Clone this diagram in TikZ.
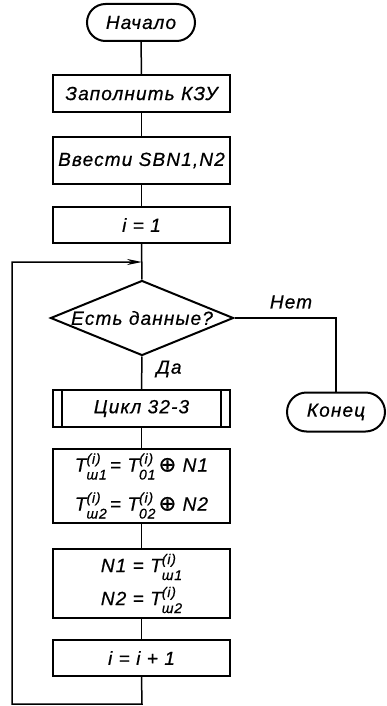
\documentclass[tikz,border=0pt]{standalone}
\usepackage{fontspec}
\usetikzlibrary{shapes.geometric,shapes.misc,arrows.meta}
\newfontfamily\gostfont[LetterSpace=6,FakeBold=0.6]{Liberation Sans}
\newfontfamily\dvsans[FakeBold=1.2]{DejaVu Sans}
\newcommand{\smf}{\fontsize{14}{14}\selectfont}
\newcommand{\Tv}[1]{T\rlap{\raisebox{8pt}{\smf(i)}}\raisebox{-8pt}{\smf #1}}
\newcommand{\xor}{\,{\dvsans\fontsize{21}{21}\selectfont ⊕}\ }
\tikzset{
  txt/.style={font=\gostfont\itshape\fontsize{19}{22}\selectfont},
  box/.style={txt, draw, line width=2pt, minimum width=177pt, inner sep=0pt},
  term/.style={txt, draw, line width=2pt, rounded rectangle, inner sep=0pt},
  dia/.style={txt, draw, line width=2pt, diamond, aspect=2.44, minimum width=183pt, minimum height=75pt, inner sep=0pt},
  conn/.style={line width=1.5pt},
  lbl/.style={txt, inner sep=0pt}
}
\begin{document}
\begin{tikzpicture}[x=1pt,y=-1pt]
\useasboundingbox (0,0) rectangle (387,706);
\node[term, minimum width=108pt, minimum height=37pt] (start) at (141,22.5) {Начало};
\node[box, minimum height=37pt] (b1) at (141.5,93.5) {Заполнить КЗУ};
\node[box, minimum height=47pt] (b2) at (141.5,160.5) {Ввести SBN1,N2};
\node[box, minimum height=36pt] (b3) at (141.5,225) {i = 1};
\coordinate (join) at (142,262);
\node[dia] (d) at (142,318) {Есть данные?};
\node[lbl] (net) at (291,302) {Нет};
\node[lbl] (da) at (169,369) {Да};
\node[term, minimum width=98pt, minimum height=39pt] (end) at (336,412) {Конец};
\node[box, minimum height=37pt] (cyc) at (141.5,408.5) {Цикл 32-3};
\draw[line width=2pt] ([xshift=10pt]cyc.north west) -- ([xshift=10pt]cyc.south west);
\draw[line width=2pt] ([xshift=-10pt]cyc.north east) -- ([xshift=-10pt]cyc.south east);
\node[box, minimum height=74pt, align=center, font=\gostfont\itshape\fontsize{19}{37}\selectfont] (calc) at (141.5,486)
  {\Tv{ш1}\,= \Tv{01}\xor N1\\[2pt] \Tv{ш2}\,= \Tv{02}\xor N2};
\node[box, minimum height=69pt, align=center, font=\gostfont\itshape\fontsize{19}{33}\selectfont] (asg) at (141.5,583.5)
  {N1 = \Tv{ш1}\\ N2 = \Tv{ш2}};
\node[box, minimum height=36pt] (inc) at (141.5,658) {i = i + 1};
\coordinate (bot) at (142,704);
\coordinate (lt) at (12,262);
\draw[conn] (start) -- (b1);
\draw[conn] (b1) -- (b2);
\draw[conn] (b2) -- (b3);
\draw[conn] (b3.south) -- (d.north);
\draw[conn] (d.east) -| (end.north);
\draw[conn] (d.south) -- (cyc.north);
\draw[conn] (cyc) -- (calc);
\draw[conn] (calc) -- (asg);
\draw[conn] (asg) -- (inc);
\draw[conn, -{Stealth[length=15pt,width=6pt]}] (inc.south) -- (bot) -| (lt) -- (join);
\end{tikzpicture}
\end{document}
